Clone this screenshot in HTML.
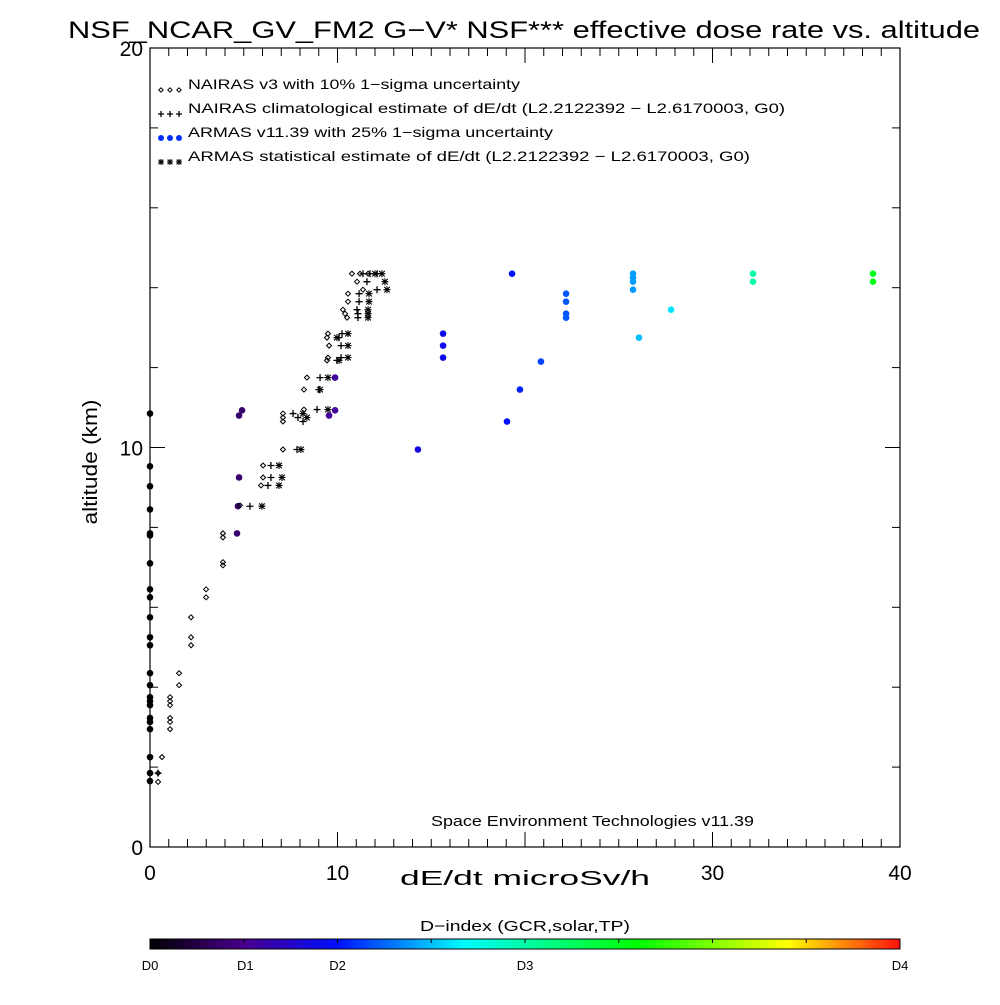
<!DOCTYPE html>
<html><head><meta charset="utf-8"><style>
body{margin:0;background:#fff;}
svg text{font-family:"Liberation Sans",sans-serif;fill:#000;}
</style></head><body>
<svg id="chart" width="1000" height="1000" viewBox="0 0 1000 1000" xmlns="http://www.w3.org/2000/svg">
<defs>
<linearGradient id="cbar" x1="0" x2="1" y1="0" y2="0">
<stop offset="0" stop-color="#000000"/><stop offset="0.127" stop-color="#4a0090"/><stop offset="0.25" stop-color="#0010ff"/><stop offset="0.33" stop-color="#0080ff"/><stop offset="0.42" stop-color="#00ffff"/><stop offset="0.65" stop-color="#00ff00"/><stop offset="0.85" stop-color="#ffff00"/><stop offset="1" stop-color="#ff1010"/>
</linearGradient>
</defs>
<text x="68" y="38" font-size="24" textLength="912" lengthAdjust="spacingAndGlyphs">NSF_NCAR_GV_FM2 G−V* NSF*** effective dose rate vs. altitude</text>
<rect x="150" y="48" width="750" height="799" fill="none" stroke="#000" stroke-width="1.2"/>
<g id="axes"></g>
<g id="marks"></g>
<text transform="translate(97,462) rotate(-90)" font-size="20" text-anchor="middle" textLength="125" lengthAdjust="spacingAndGlyphs">altitude (km)</text>
<text x="400" y="885" font-size="20" textLength="250" lengthAdjust="spacingAndGlyphs">dE/dt microSv/h</text>
<g font-size="14">
<text x="188" y="89" textLength="332" lengthAdjust="spacingAndGlyphs">NAIRAS v3 with 10% 1−sigma uncertainty</text>
<text x="188" y="113" textLength="597" lengthAdjust="spacingAndGlyphs">NAIRAS climatological estimate of dE/dt (L2.2122392 − L2.6170003, G0)</text>
<text x="188" y="137" textLength="365" lengthAdjust="spacingAndGlyphs">ARMAS v11.39 with 25% 1−sigma uncertainty</text>
<text x="188" y="161" textLength="562" lengthAdjust="spacingAndGlyphs">ARMAS statistical estimate of dE/dt (L2.2122392 − L2.6170003, G0)</text>
</g>
<g id="legsym"></g>
<text x="431" y="826" font-size="15" textLength="323" lengthAdjust="spacingAndGlyphs">Space Environment Technologies v11.39</text>
<text x="420" y="931" font-size="15" textLength="210" lengthAdjust="spacingAndGlyphs">D−index (GCR,solar,TP)</text>
<rect x="150" y="939" width="750" height="10" fill="url(#cbar)" stroke="#000" stroke-width="1"/>
<g id="cbticks"></g>
</svg>
<script>
const NS="http://www.w3.org/2000/svg";
const xTicks=[0,10,30,40];
const yTicks=[0,10,20];
const cbLabels=["D0","D1","D2","D3","D4"];
const cbFrac=[0,0.127,0.25,0.5,1];
// NAIRAS diamonds
const nairasX=[0.43,0.43,0.64,1.07,1.07,1.07,1.07,1.07,1.07,1.55,1.55,2.19,2.19,2.19,2.99,2.99,3.89,3.89,3.89,3.89,4.8,5.92,6.03,6.03,7.09,7.09,7.09,7.09,8.21,8.21,8.37,9.44,9.49,9.55,9.44,9.49,10.29,10.4,10.51,10.56,10.56,11.36,11.04,10.77,11.2,11.63];
const nairasAlt=[1.85,1.63,2.25,3.75,3.65,3.55,3.23,3.13,2.95,4.35,4.05,5.75,5.25,5.05,6.45,6.25,7.85,7.75,7.13,7.05,8.55,9.05,9.25,9.55,9.95,10.85,10.75,10.65,10.95,11.45,11.75,12.18,12.25,12.55,12.75,12.85,13.45,13.35,13.25,13.65,13.85,13.95,14.15,14.35,14.35,14.35];
// NAIRAS climatological plus
const climX=[0.43,7.84,6.45,6.45,6.29,5.33,7.63,7.89,8.16,8.91,9.01,9.07,9.97,10.19,10.19,10.08,10.24,11.09,11.09,11.04,11.15,11.15,11.57,12.11,11.36,11.73,12.11];
const climAlt=[1.85,9.95,9.55,9.25,9.05,8.53,10.85,10.75,10.65,10.95,11.45,11.75,12.18,12.25,12.55,12.75,12.85,13.25,13.35,13.45,13.65,13.85,14.15,13.95,14.35,14.35,14.35];
// ARMAS statistical stars
const statX=[8.05,6.88,7.04,6.88,5.97,8.37,8.16,9.49,9.07,9.49,10.08,10.56,10.56,9.97,10.56,11.63,11.63,11.63,11.68,11.68,12.53,12.64,12.0,12.37];
const statAlt=[9.95,9.55,9.25,9.05,8.53,10.75,10.85,10.95,11.45,11.75,12.18,12.25,12.55,12.75,12.85,13.25,13.35,13.45,13.65,13.85,14.15,13.95,14.35,14.35];
// ARMAS measurements
const armasX=[0,0,0,0,0,0,0,0,0,0,0,0,0,0,0,0,0,0,0,0,0,0,0,9.87,9.87,9.55,4.91,4.75,4.75,4.69,4.64,14.29,15.63,15.63,15.63,19.31,19.04,19.73,20.85,22.19,22.19,22.19,22.19,25.76,25.76,25.76,25.76,26.08,27.79,32.16,32.16,38.56,38.56];
const armasAlt=[10.85,9.53,9.03,8.45,7.85,7.8,7.1,6.45,6.25,5.75,5.25,5.05,4.35,4.05,3.75,3.65,3.55,3.23,3.13,2.95,2.25,1.85,1.65,11.75,10.93,10.8,10.93,10.8,9.25,8.53,7.85,9.95,12.85,12.55,12.25,14.35,10.65,11.45,12.15,13.85,13.65,13.35,13.25,14.35,14.25,14.15,13.95,12.75,13.45,14.35,14.15,14.35,14.15];
const armasD=[0,0,0,0,0,0,0,0,0,0,0,0,0,0,0,0,0,0,0,0,0,0,0,1.1,1.1,1.1,0.75,0.75,0.75,0.75,0.75,1.7,1.8,1.8,1.8,2.0,2.0,2.05,2.15,2.2,2.2,2.2,2.2,2.4,2.4,2.4,2.4,2.5,2.6,3.0,3.0,3.25,3.25];

const X0=150,X1=900,Y0=847,Y1=48;
const xs=v=>X0+(v-0)/(40-0)*(X1-X0);
const ys=v=>Y0-(v-0)/(20-0)*(Y0-Y1);
function mk(tag,attrs,parent){const e=document.createElementNS(NS,tag);for(const k in attrs)e.setAttribute(k,attrs[k]);parent.appendChild(e);return e;}
const axes=document.getElementById('axes'),marks=document.getElementById('marks');
for(let v=0;v<=40;v+=1){
  const major=v%10===0,L=major?15:8;
  const t1=mk('line',{x1:xs(v),x2:xs(v),y1:Y0,y2:Y0-L,stroke:'#000'},axes);
  
  
  const t2=mk('line',{x1:xs(v),x2:xs(v),y1:Y1,y2:Y1+L,stroke:'#000'},axes);
  
  
}
xTicks.forEach(v=>{const t=mk('text',{x:xs(v),y:880,'font-size':21,'text-anchor':'middle'},axes);t.textContent=v;
  
  });
for(let v=0;v<=20;v+=2){
  const major=v%10===0,L=major?15:8;
  const t1=mk('line',{x1:X0,x2:X0+L,y1:ys(v),y2:ys(v),stroke:'#000'},axes);
  
  
  const t2=mk('line',{x1:X1,x2:X1-L,y1:ys(v),y2:ys(v),stroke:'#000'},axes);
  
  
}
yTicks.forEach(v=>{const t=mk('text',{x:143,y:ys(v)+8,'font-size':21,'text-anchor':'end'},axes);t.textContent=v;
  
  });
const stops=[[0,[0,0,0]],[0.127,[74,0,144]],[0.25,[0,16,255]],[0.33,[0,128,255]],[0.42,[0,255,255]],[0.65,[0,255,0]],[0.85,[255,255,0]],[1,[255,16,16]]];
function dFrac(d){const i=Math.min(3,Math.floor(d));return cbFrac[i]+(d-i)*(cbFrac[i+1]-cbFrac[i]);}
function col(d){const f=dFrac(d);for(let i=1;i<stops.length;i++){if(f<=stops[i][0]){const a=stops[i-1],b=stops[i],t=(f-a[0])/(b[0]-a[0]);const c=a[1].map((x,j)=>Math.round(x+(b[1][j]-x)*t));return `rgb(${c})`;}}return 'rgb(255,16,16)';}
function diamond(x,y,p,s){return mk('path',{d:`M${x-s},${y}L${x},${y-s}L${x+s},${y}L${x},${y+s}Z`,fill:'none',stroke:'#000','stroke-width':1},p);}
function plus(x,y,p,s){return mk('path',{d:`M${x-s},${y}H${x+s}M${x},${y-s}V${y+s}`,stroke:'#000','stroke-width':1.3},p);}
function star(x,y,p,s){return mk('path',{d:`M${x-s},${y}H${x+s}M${x},${y-s}V${y+s}M${x-s*0.8},${y-s*0.8}L${x+s*0.8},${y+s*0.8}M${x-s*0.8},${y+s*0.8}L${x+s*0.8},${y-s*0.8}`,stroke:'#000','stroke-width':1.1},p);}
armasX.forEach((v,i)=>{const e=mk('circle',{cx:xs(v),cy:ys(armasAlt[i]),r:3.3,fill:col(armasD[i])},marks);
  
  });
nairasX.forEach((v,i)=>{const e=diamond(xs(v),ys(nairasAlt[i]),marks,2.5);
  
  });
climX.forEach((v,i)=>{const e=plus(xs(v),ys(climAlt[i]),marks,3.5);
  
  });
statX.forEach((v,i)=>{const e=star(xs(v),ys(statAlt[i]),marks,3.5);
  
  });
const lg=document.getElementById('legsym');
[161,170,179].forEach(x=>{
  let e=diamond(x,90,lg,2.2);
  e=plus(x,114,lg,3);
  e=mk('circle',{cx:x,cy:138,r:3,fill:'#0030ff'},lg);
  e=star(x,162,lg,3);
});
const cb=document.getElementById('cbticks');
for(let k=1;k<8;k++){const e=mk('line',{x1:150+k*750/8,x2:150+k*750/8,y1:939,y2:943,stroke:'#000'},cb);
  
  }
cbLabels.forEach((l,i)=>{const x=150+cbFrac[i]*750;const t=mk('text',{x:x,y:970,'font-size':13,'text-anchor':'middle'},cb);t.textContent=l;
  
  });
</script>
</body></html>
